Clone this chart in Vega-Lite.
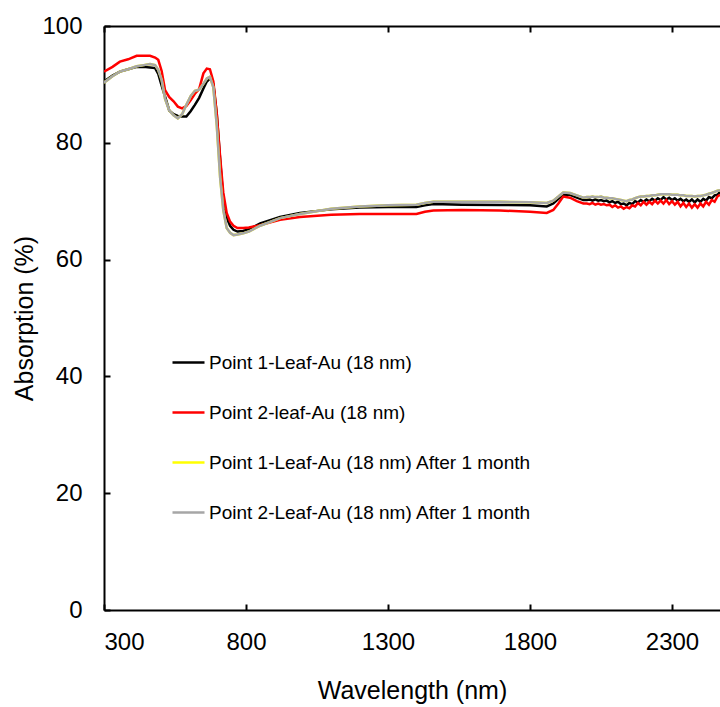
{
  "$schema": "https://vega.github.io/schema/vega-lite/v6.json",
  "autosize": {"type": "none"},
  "padding": {"left": 104, "top": 26, "right": 0, "bottom": 97},
  "width": 616,
  "height": 584,
  "background": "white",
  "config": {
    "view": {"stroke": null},
    "font": "Liberation Sans",
    "axis": {
      "grid": false,
      "domainColor": "black",
      "domainWidth": 2,
      "tickColor": "black",
      "tickWidth": 2,
      "labelColor": "black",
      "labelFont": "Liberation Sans",
      "labelFontSize": 24,
      "titleFont": "Liberation Sans",
      "titleFontSize": 25,
      "titleFontWeight": "normal",
      "titleColor": "black"
    },
    "legend": {
      "labelFont": "Liberation Sans",
      "labelFontSize": 19,
      "labelColor": "black",
      "padding": 0
    }
  },
  "data": {
    "values": [
      {"w": 300, "k": 90.5, "r": 92.2, "y": 90.3, "g": 90.3},
      {"w": 330, "k": 91.5, "r": 93.0, "y": 91.4, "g": 91.4},
      {"w": 356, "k": 92.2, "r": 93.9, "y": 92.2, "g": 92.2},
      {"w": 385, "k": 92.6, "r": 94.3, "y": 92.6, "g": 92.6},
      {"w": 415, "k": 93.0, "r": 94.9, "y": 93.1, "g": 93.1},
      {"w": 440, "k": 93.0, "r": 94.9, "y": 93.3, "g": 93.3},
      {"w": 462, "k": 92.9, "r": 94.9, "y": 93.5, "g": 93.5},
      {"w": 480, "k": 92.8, "r": 94.6, "y": 93.3, "g": 93.3},
      {"w": 491, "k": 91.8, "r": 94.2, "y": 92.5, "g": 92.5},
      {"w": 503, "k": 89.8, "r": 92.3, "y": 90.8, "g": 90.8},
      {"w": 515, "k": 87.9, "r": 89.0, "y": 87.5, "g": 87.5},
      {"w": 530, "k": 85.5, "r": 87.8, "y": 85.5, "g": 85.5},
      {"w": 545, "k": 84.9, "r": 87.1, "y": 84.7, "g": 84.7},
      {"w": 560, "k": 84.6, "r": 86.2, "y": 84.2, "g": 84.2},
      {"w": 575, "k": 84.5, "r": 85.9, "y": 84.9, "g": 84.9},
      {"w": 590, "k": 84.5, "r": 86.3, "y": 86.5, "g": 86.5},
      {"w": 605, "k": 85.4, "r": 87.3, "y": 88.0, "g": 88.0},
      {"w": 620, "k": 86.5, "r": 88.4, "y": 88.9, "g": 88.9},
      {"w": 635, "k": 87.7, "r": 89.2, "y": 89.1, "g": 89.1},
      {"w": 650, "k": 89.3, "r": 91.9, "y": 90.1, "g": 90.1},
      {"w": 662, "k": 90.5, "r": 92.7, "y": 91.0, "g": 91.0},
      {"w": 673, "k": 91.0, "r": 92.6, "y": 91.3, "g": 91.3},
      {"w": 685, "k": 90.1, "r": 90.5, "y": 89.5, "g": 89.5},
      {"w": 697, "k": 85.0, "r": 85.0, "y": 83.0, "g": 83.0},
      {"w": 709, "k": 77.1, "r": 77.5, "y": 74.0, "g": 74.0},
      {"w": 720, "k": 70.2, "r": 71.5, "y": 68.5, "g": 68.5},
      {"w": 732, "k": 67.2, "r": 68.0, "y": 65.4, "g": 65.4},
      {"w": 744, "k": 65.8, "r": 66.5, "y": 64.6, "g": 64.6},
      {"w": 756, "k": 65.1, "r": 65.8, "y": 64.2, "g": 64.2},
      {"w": 770, "k": 64.8, "r": 65.4, "y": 64.3, "g": 64.3},
      {"w": 790, "k": 64.9, "r": 65.4, "y": 64.5, "g": 64.5},
      {"w": 810, "k": 65.2, "r": 65.5, "y": 64.8, "g": 64.8},
      {"w": 850, "k": 66.2, "r": 65.9, "y": 65.8, "g": 65.8},
      {"w": 920, "k": 67.3, "r": 66.8, "y": 67.1, "g": 67.1},
      {"w": 990, "k": 68.0, "r": 67.3, "y": 67.8, "g": 67.8},
      {"w": 1100, "k": 68.6, "r": 67.7, "y": 68.7, "g": 68.7},
      {"w": 1200, "k": 68.9, "r": 67.8, "y": 69.1, "g": 69.1},
      {"w": 1300, "k": 69.0, "r": 67.8, "y": 69.3, "g": 69.3},
      {"w": 1400, "k": 69.0, "r": 67.8, "y": 69.4, "g": 69.4},
      {"w": 1430, "k": 69.3, "r": 68.2, "y": 69.7, "g": 69.7},
      {"w": 1460, "k": 69.5, "r": 68.4, "y": 69.9, "g": 69.9},
      {"w": 1560, "k": 69.4, "r": 68.5, "y": 69.9, "g": 69.9},
      {"w": 1694, "k": 69.35, "r": 68.4, "y": 69.9, "g": 69.9},
      {"w": 1800, "k": 69.3, "r": 68.2, "y": 69.8, "g": 69.8},
      {"w": 1859, "k": 69.1, "r": 68.0, "y": 69.7, "g": 69.7},
      {"w": 1882, "k": 69.6, "r": 68.5, "y": 70.1, "g": 70.1},
      {"w": 1900, "k": 70.4, "r": 69.6, "y": 70.8, "g": 70.8},
      {"w": 1917, "k": 71.1, "r": 70.8, "y": 71.5, "g": 71.5},
      {"w": 1941, "k": 71.1, "r": 70.6, "y": 71.4, "g": 71.4},
      {"w": 1965, "k": 70.6, "r": 70.0, "y": 71.0, "g": 71.0},
      {"w": 1988, "k": 70.2, "r": 69.6, "y": 70.6, "g": 70.6},
      {"w": 2000, "k": 70.2, "r": 69.6, "y": 70.7, "g": 70.7},
      {"w": 2010, "k": 70.3, "r": 69.5, "y": 70.7, "g": 70.7},
      {"w": 2020, "k": 70.1, "r": 69.7, "y": 70.8, "g": 70.8},
      {"w": 2030, "k": 70.3, "r": 69.4, "y": 70.7, "g": 70.7},
      {"w": 2040, "k": 70.1, "r": 69.6, "y": 70.7, "g": 70.7},
      {"w": 2050, "k": 70.2, "r": 69.4, "y": 70.8, "g": 70.8},
      {"w": 2060, "k": 70.0, "r": 69.5, "y": 70.6, "g": 70.6},
      {"w": 2070, "k": 70.1, "r": 69.3, "y": 70.6, "g": 70.6},
      {"w": 2080, "k": 69.8, "r": 69.4, "y": 70.5, "g": 70.5},
      {"w": 2090, "k": 70.0, "r": 69.0, "y": 70.5, "g": 70.5},
      {"w": 2100, "k": 69.7, "r": 69.3, "y": 70.4, "g": 70.4},
      {"w": 2110, "k": 69.9, "r": 68.9, "y": 70.3, "g": 70.3},
      {"w": 2120, "k": 69.5, "r": 69.1, "y": 70.2, "g": 70.2},
      {"w": 2130, "k": 69.6, "r": 68.7, "y": 70.1, "g": 70.1},
      {"w": 2140, "k": 69.3, "r": 69.0, "y": 70.0, "g": 70.0},
      {"w": 2150, "k": 69.7, "r": 68.8, "y": 70.2, "g": 70.2},
      {"w": 2160, "k": 69.5, "r": 69.3, "y": 70.3, "g": 70.3},
      {"w": 2170, "k": 70.0, "r": 69.1, "y": 70.5, "g": 70.5},
      {"w": 2180, "k": 69.8, "r": 69.7, "y": 70.7, "g": 70.7},
      {"w": 2190, "k": 70.2, "r": 69.3, "y": 70.8, "g": 70.8},
      {"w": 2200, "k": 69.9, "r": 69.9, "y": 70.8, "g": 70.8},
      {"w": 2210, "k": 70.3, "r": 69.4, "y": 70.9, "g": 70.9},
      {"w": 2220, "k": 70.0, "r": 69.9, "y": 70.9, "g": 70.9},
      {"w": 2230, "k": 70.4, "r": 69.5, "y": 71.0, "g": 71.0},
      {"w": 2240, "k": 70.1, "r": 70.1, "y": 71.0, "g": 71.0},
      {"w": 2250, "k": 70.5, "r": 69.6, "y": 71.1, "g": 71.1},
      {"w": 2260, "k": 70.2, "r": 70.1, "y": 71.2, "g": 71.2},
      {"w": 2270, "k": 70.7, "r": 69.6, "y": 71.2, "g": 71.2},
      {"w": 2280, "k": 70.3, "r": 70.2, "y": 71.2, "g": 71.2},
      {"w": 2290, "k": 70.6, "r": 69.5, "y": 71.2, "g": 71.2},
      {"w": 2300, "k": 70.2, "r": 70.0, "y": 71.1, "g": 71.1},
      {"w": 2310, "k": 70.5, "r": 69.4, "y": 71.1, "g": 71.1},
      {"w": 2320, "k": 70.1, "r": 69.9, "y": 71.1, "g": 71.1},
      {"w": 2330, "k": 70.4, "r": 69.1, "y": 71.0, "g": 71.0},
      {"w": 2340, "k": 70.0, "r": 69.7, "y": 71.0, "g": 71.0},
      {"w": 2350, "k": 70.3, "r": 69.0, "y": 70.9, "g": 70.9},
      {"w": 2360, "k": 69.9, "r": 69.6, "y": 70.9, "g": 70.9},
      {"w": 2370, "k": 70.3, "r": 68.9, "y": 70.9, "g": 70.9},
      {"w": 2380, "k": 69.8, "r": 69.5, "y": 70.8, "g": 70.8},
      {"w": 2390, "k": 70.3, "r": 68.9, "y": 70.9, "g": 70.9},
      {"w": 2400, "k": 69.9, "r": 69.6, "y": 70.9, "g": 70.9},
      {"w": 2410, "k": 70.4, "r": 69.1, "y": 71.0, "g": 71.0},
      {"w": 2420, "k": 70.1, "r": 69.9, "y": 71.1, "g": 71.1},
      {"w": 2430, "k": 70.7, "r": 69.4, "y": 71.3, "g": 71.3},
      {"w": 2440, "k": 70.5, "r": 70.2, "y": 71.4, "g": 71.4},
      {"w": 2450, "k": 71.0, "r": 69.9, "y": 71.6, "g": 71.6},
      {"w": 2460, "k": 71.1, "r": 70.8, "y": 71.8, "g": 71.8},
      {"w": 2469, "k": 71.6, "r": 71.1, "y": 71.9, "g": 71.9}
    ]
  },
  "transform": [{"fold": ["k", "r", "y", "g"], "as": ["s", "a"]}],
  "layer": [
    {
      "mark": {"type": "line", "strokeWidth": 2.5, "clip": true},
      "encoding": {
        "x": {
          "field": "w", "type": "quantitative",
          "scale": {"domain": [300, 2469], "nice": false, "zero": false},
          "axis": {"orient": "bottom", "values": [300, 800, 1300, 1800, 2300], "format": "d", "tickSize": -6, "title": "Wavelength  (nm)", "labelPadding": 26, "titlePadding": 24}
        },
        "y": {
          "field": "a", "type": "quantitative",
          "scale": {"domain": [0, 100], "nice": false},
          "axis": {"values": [0, 20, 40, 60, 80, 100], "tickSize": -6, "title": "Absorption  (%)", "labelPadding": 28, "titlePadding": 4}
        },
        "color": {
          "field": "s", "type": "nominal",
          "scale": {"domain": ["k", "r", "y", "g"], "range": ["#000000", "#FF0000", "#FFFF00", "#A6A6A6"]},
          "legend": {
            "title": null,
            "orient": "none",
            "legendX": 67,
            "legendY": 319,
            "symbolType": "stroke",
            "symbolSize": 1024,
            "symbolStrokeWidth": 2.5,
            "labelOffset": 3,
            "labelLimit": 0,
            "rowPadding": 22,
            "labelExpr": "datum.label == 'k' ? 'Point 1-Leaf-Au (18 nm)' : datum.label == 'r' ? 'Point 2-leaf-Au (18 nm)' : datum.label == 'y' ? 'Point 1-Leaf-Au (18 nm) After 1 month' : 'Point 2-Leaf-Au (18 nm) After 1 month'"
          }
        }
      }
    },
    {
      "mark": {"type": "point", "opacity": 0},
      "encoding": {
        "x": {
          "field": "w", "type": "quantitative",
          "axis": {"orient": "top", "values": [300, 800, 1300, 1800, 2300], "tickSize": -6, "labels": false, "title": null}
        }
      }
    }
  ],
  "resolve": {"axis": {"x": "independent"}}
}
